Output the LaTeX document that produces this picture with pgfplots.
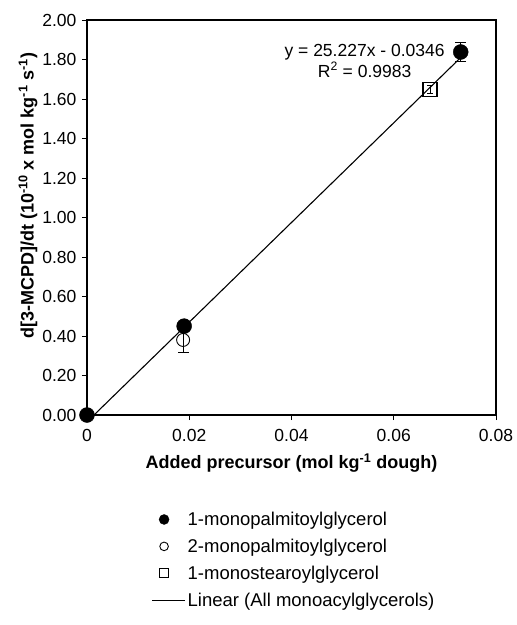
\documentclass[border=0pt]{standalone}
\usepackage{fontspec}
\setmainfont{Liberation Sans}
\usepackage{pgfplots}
\pgfplotsset{compat=1.18}
\pgfplotsset{
  leg mark/.style={legend image code/.code={\draw[##1,mark size=#1] plot coordinates {(12pt,0pt)};}},
  leg line/.style={legend image code/.code={\draw[##1] (0pt,0pt) -- (33pt,0pt);}},
}
\begin{document}
\begin{tikzpicture}
\begin{axis}[
  scale only axis, width=409pt, height=395pt,
  axis lines=box,
  xmin=0, xmax=0.08, ymin=0, ymax=2,
  xtick={0,0.02,0.04,0.06,0.08},
  xticklabels={0,0.02,0.04,0.06,0.08},
  scaled x ticks=false,
  ytick={0,0.2,...,2.0},
  yticklabel style={xshift=-2pt, /pgf/number format/.cd,fixed,fixed zerofill,precision=2},
  /pgf/number format/assume math mode=true,
  tick label style={font=\fontsize{17.5}{19}\selectfont},
  xticklabel style={yshift=-6pt},
  tick align=outside, xtick pos=bottom, ytick pos=left,
  major tick length=5pt,
  axis line style={line width=1.2pt, black}, every tick/.style={line width=0.8pt, black},
  xlabel={\textbf{Added precursor (mol kg\textsuperscript{-1} dough)}},
  ylabel={\textbf{d[3-MCPD]/dt (10\textsuperscript{-10} x mol kg\textsuperscript{-1} s\textsuperscript{-1})}},
  label style={font=\fontsize{18}{20}\selectfont},
  xlabel style={yshift=-5pt},
  ylabel style={at={(ticklabel cs:0.555)}, yshift=-2pt},
  clip=false,
  legend style={draw=none, at={(0.15,-0.235)}, anchor=north west,
    font=\fontsize{18.5}{21}\selectfont, row sep=8pt,
    /tikz/every even column/.append style={column sep=4pt}},
  legend cell align=left,
]
\coordinate (O) at (rel axis cs:0,0);
\addplot[only marks, mark=*, mark size=7.5pt, black, leg mark=5pt,
  error bars/.cd, y dir=both, y explicit, error bar style={line width=1pt},
  error mark options={rotate=90, mark size=5.5pt, line width=1pt}]
  coordinates {(0,0) +- (0,0.005) (0.019,0.45) +- (0,0.02) (0.0731,1.838) +- (0,0.05)};
\addlegendentry{1-monopalmitoylglycerol}
\addplot[only marks, mark=o, mark size=6.5pt, black, line width=0.9pt, leg mark=4.3pt,
  error bars/.cd, y dir=both, y explicit, error bar style={line width=1pt},
  error mark options={rotate=90, mark size=5.5pt, line width=1pt}]
  coordinates {(0.0188,0.38) +- (0,0.065)};
\addlegendentry{2-monopalmitoylglycerol}
\addplot[only marks, mark=square, mark size=7pt, black, line width=1.1pt, leg mark=4.5pt,
  error bars/.cd, y dir=both, y explicit, error bar style={line width=1pt},
  error mark options={rotate=90, mark size=3pt, line width=1pt}]
  coordinates {(0.0671,1.648) +- (0,0.02)};
\addlegendentry{1-monostearoylglycerol}
\addplot[black, line width=1.1pt, no markers, leg line]
  coordinates {(0.00137,0) (0.0733,1.815)};
\addlegendentry{Linear (All monoacylglycerols)}
\node[align=center, font=\fontsize{17.5}{21}\selectfont] at (axis cs:0.0543,1.795)
  {y = 25.227x - 0.0346\\R\textsuperscript{2} = 0.9983};
\end{axis}
\draw[black, line width=1.4pt] (O) ++(0pt,395pt) -- ++(409pt,0pt) -- ++(0pt,-395pt);
\path (O) ++(-87pt,-210pt) rectangle ++(516pt,625pt);
\end{tikzpicture}
\end{document}
